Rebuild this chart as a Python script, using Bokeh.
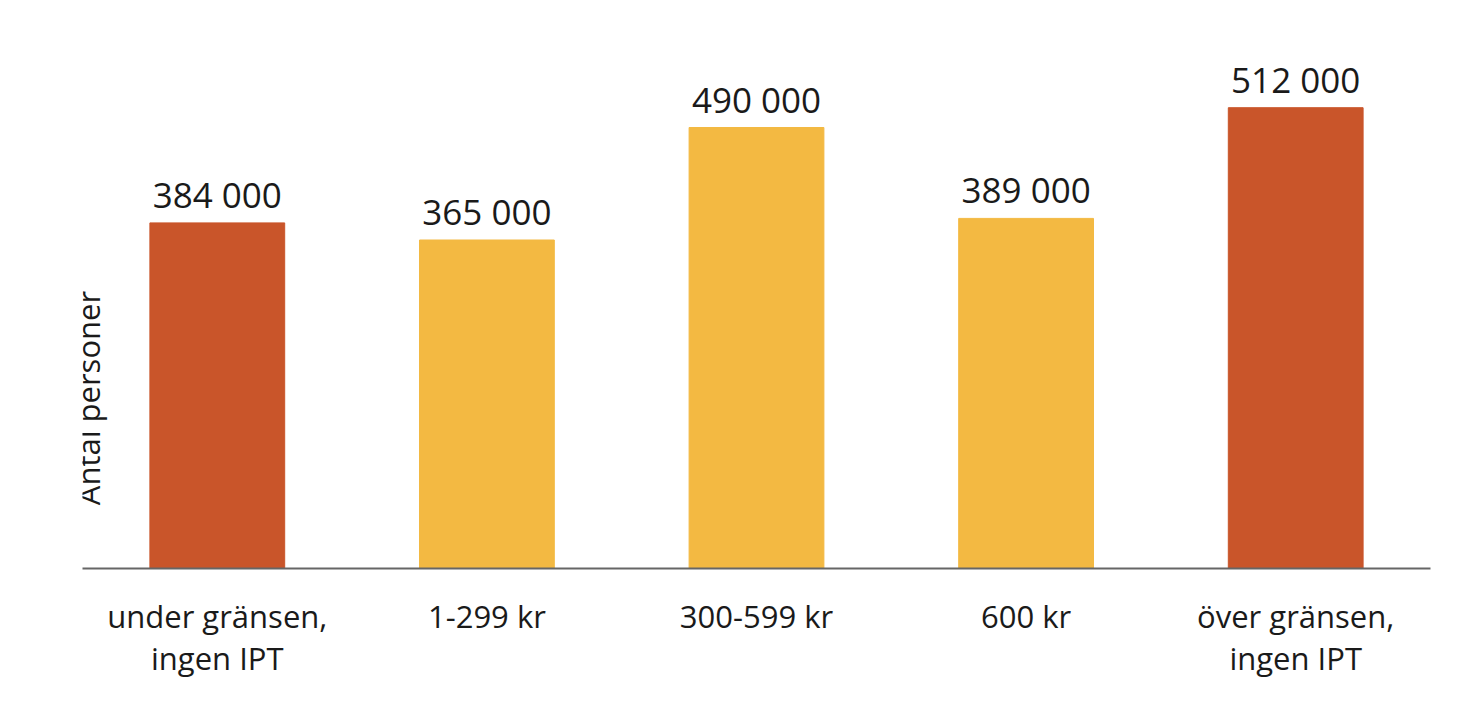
from bokeh.plotting import figure
from bokeh.models import ColumnDataSource, FactorRange, Label, LabelSet, Range1d
from bokeh.core.properties import value
from bokeh.embed import file_html
from bokeh.resources import INLINE

categories = ["under gränsen,\ningen IPT", "1-299 kr", "300-599 kr", "600 kr", "över gränsen,\ningen IPT"]
values = [384000, 365000, 490000, 389000, 512000]
colors = ["#C9552A", "#F3B942", "#F3B942", "#F3B942", "#C9552A"]
value_labels = [f"{v:,}".replace(",", " ") for v in values]
y_label = "Antal personer"

FONT = "Open Sans"
TXT = "#1a1a1a"

src = ColumnDataSource(dict(cat=categories, val=values, col=colors, lab=value_labels))

p = figure(width=1452, height=704, output_backend="svg", toolbar_location=None,
           x_range=FactorRange(factors=categories, range_padding=0),
           y_range=Range1d(0, 600000),
           min_border_left=82, min_border_right=22, min_border_top=28, min_border_bottom=136)

p.vbar(x="cat", top="val", width=0.5, color="col", source=src)
p.add_layout(LabelSet(x="cat", y="val", text="lab", source=src, text_align="center",
                      text_baseline="alphabetic", y_offset=15, text_font=value(FONT),
                      text_font_size=value("35px"), text_color=value(TXT)))

p.yaxis.visible = False
p.grid.visible = False
p.outline_line_color = None
p.background_fill_color = "white"
p.border_fill_color = "white"

ax = p.xaxis[0]
ax.axis_line_color = "#666666"
ax.axis_line_width = 2
ax.major_tick_line_color = None
ax.minor_tick_line_color = None
ax.major_tick_out = 0
ax.major_tick_in = 0
ax.major_label_standoff = 26
ax.major_label_text_font = FONT
ax.major_label_text_font_size = "31px"
ax.major_label_text_color = TXT
ax.major_label_text_line_height = 1.02

p.add_layout(Label(x=0.022, y=189400, text=y_label, angle=1.5708, text_align="center",
                   text_baseline="middle", text_font=FONT, text_font_size="31px", text_color=TXT))

open("out.html", "w").write(file_html(p, INLINE))
